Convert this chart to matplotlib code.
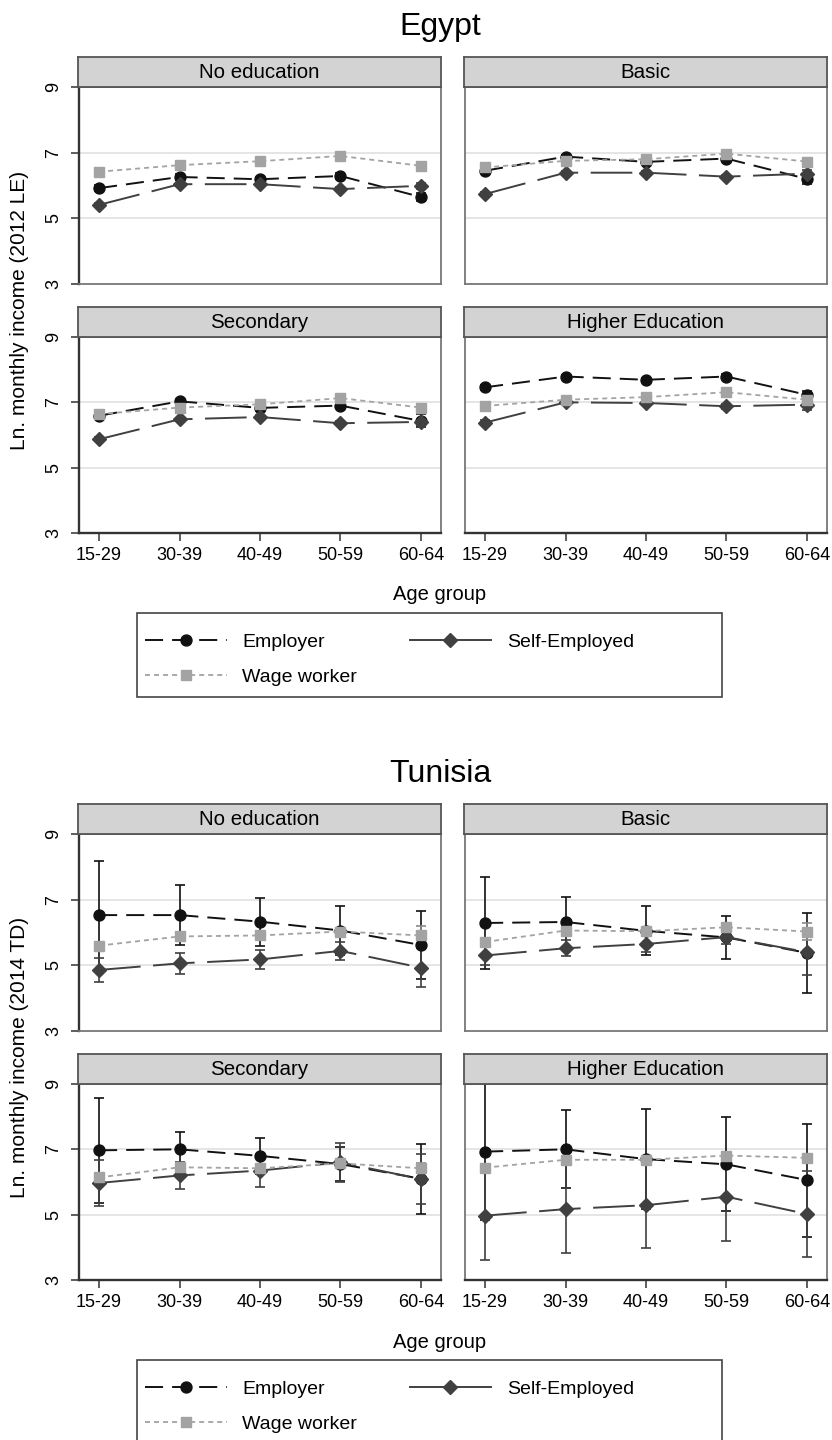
import matplotlib
matplotlib.use("Agg")
import matplotlib.pyplot as plt
from matplotlib.lines import Line2D
from matplotlib.patches import Rectangle

plt.rcParams['font.family'] = ['Liberation Sans', 'DejaVu Sans']
plt.rcParams['lines.scale_dashes'] = False

# ---------------- data ----------------
age_groups = ["15-29", "30-39", "40-49", "50-59", "60-64"]
education = ["No education", "Basic", "Secondary", "Higher Education"]
series_names = ["Employer", "Self-Employed", "Wage worker"]
y_ticks = [3, 5, 7, 9]
countries = ["Egypt", "Tunisia"]
y_labels = ["Ln. monthly income (2012 LE)", "Ln. monthly income (2014 TD)"]

# Egypt: one row per education level
egypt_employer = [[5.92, 6.26, 6.19, 6.29, 5.65],
                  [6.45, 6.88, 6.72, 6.82, 6.20],
                  [6.59, 7.03, 6.83, 6.90, 6.43],
                  [7.46, 7.79, 7.69, 7.79, 7.23]]
egypt_employer_ci = [[0.10, 0.08, 0.08, 0.08, 0.12],
                     [0.08, 0.06, 0.06, 0.07, 0.15],
                     [0.06, 0.06, 0.06, 0.06, 0.20],
                     [0.07, 0.06, 0.06, 0.07, 0.12]]
egypt_self = [[5.41, 6.04, 6.04, 5.89, 5.99],
              [5.74, 6.39, 6.39, 6.27, 6.36],
              [5.87, 6.48, 6.55, 6.36, 6.40],
              [6.38, 7.00, 6.98, 6.88, 6.93]]
egypt_self_ci = [[0.06, 0.05, 0.05, 0.06, 0.10],
                 [0.06, 0.05, 0.05, 0.06, 0.10],
                 [0.06, 0.05, 0.05, 0.06, 0.10],
                 [0.08, 0.06, 0.06, 0.07, 0.15]]
egypt_wage = [[6.42, 6.62, 6.74, 6.90, 6.60],
              [6.55, 6.75, 6.80, 6.97, 6.73],
              [6.64, 6.84, 6.94, 7.13, 6.84],
              [6.89, 7.08, 7.16, 7.31, 7.08]]
egypt_wage_ci = [[0.03, 0.03, 0.03, 0.03, 0.04],
                 [0.03, 0.03, 0.03, 0.03, 0.04],
                 [0.03, 0.03, 0.03, 0.03, 0.04],
                 [0.03, 0.03, 0.03, 0.03, 0.04]]

# Tunisia
tunisia_employer = [[6.53, 6.53, 6.33, 6.06, 5.62],
                    [6.29, 6.32, 6.05, 5.85, 5.38],
                    [6.97, 7.00, 6.80, 6.55, 6.10],
                    [6.93, 7.00, 6.70, 6.54, 6.06]]
tunisia_employer_ci = [[1.65, 0.92, 0.73, 0.74, 1.04],
                       [1.40, 0.77, 0.75, 0.65, 1.22],
                       [1.60, 0.54, 0.55, 0.53, 1.07],
                       [2.10, 1.19, 1.52, 1.44, 1.73]]
tunisia_self = [[4.86, 5.06, 5.18, 5.44, 4.93],
                [5.30, 5.52, 5.65, 5.86, 5.40],
                [5.97, 6.20, 6.35, 6.60, 6.09],
                [4.97, 5.17, 5.29, 5.55, 5.02]]
tunisia_self_ci = [[0.37, 0.33, 0.30, 0.28, 0.59],
                   [0.30, 0.25, 0.25, 0.20, 0.69],
                   [0.70, 0.41, 0.50, 0.60, 0.76],
                   [1.37, 1.34, 1.31, 1.37, 1.31]]
tunisia_wage = [[5.60, 5.88, 5.91, 6.03, 5.91],
                [5.71, 6.06, 6.04, 6.16, 6.03],
                [6.14, 6.45, 6.42, 6.57, 6.42],
                [6.44, 6.68, 6.68, 6.81, 6.74]]
tunisia_wage_ci = [[0.12, 0.15, 0.15, 0.10, 0.30],
                   [0.10, 0.10, 0.10, 0.10, 0.25],
                   [0.10, 0.10, 0.10, 0.10, 0.15],
                   [0.10, 0.10, 0.10, 0.10, 0.10]]

country_data = [
    (egypt_employer, egypt_employer_ci, egypt_self, egypt_self_ci, egypt_wage, egypt_wage_ci),
    (tunisia_employer, tunisia_employer_ci, tunisia_self, tunisia_self_ci, tunisia_wage, tunisia_wage_ci),
]

# ---------------- styles ----------------
emp_style = dict(color='#111111', marker='o', ms=7.9, lw=1.4, dashes=(13, 6.5), zorder=4)
self_style = dict(color='#404040', marker='D', ms=6.8, lw=1.4, dashes=(30, 9), zorder=5)
wage_style = dict(color='#a3a3a3', marker='s', ms=7.9, lw=1.3, dashes=(3.6, 2.9), zorder=6)
err_colors = ['#111111', '#404040', '#8a8a8a']

W, H = 832, 1440
fig = plt.figure(figsize=(W / 100, H / 100), dpi=100)


def add_ax(x0, y0, x1, y1, **kw):
    return fig.add_axes([x0 / W, 1 - y1 / H, (x1 - x0) / W, (y1 - y0) / H], **kw)


cols = [(79, 441), (465, 827)]
rows = [(87, 284, 57), (337, 533, 307)]
x = list(range(1, len(age_groups) + 1))

for ci, country in enumerate(countries):
    off = 747 * ci
    emp, emp_ci, slf, slf_ci, wag, wag_ci = country_data[ci]
    fig.text(440 / W, 1 - (27 + off) / H, country, ha='center', va='center', fontsize=23)
    for k, edu in enumerate(education):
        r, c = divmod(k, 2)
        ytop, ybot, stop = rows[r]
        x0, x1 = cols[c]
        ax = add_ax(x0, ytop + off, x1, ybot + off)
        ax.set_xlim(0.75, 5.25)
        ax.set_ylim(3, 9)
        for g in y_ticks[1:-1]:
            ax.axhline(g, color='#dedede', lw=1.1, zorder=0)
        for yv, hw, col in zip((emp[k], slf[k], wag[k]), (emp_ci[k], slf_ci[k], wag_ci[k]), err_colors):
            ax.errorbar(x, yv, yerr=hw, fmt='none', ecolor=col, elinewidth=1.2,
                        capsize=3.8, capthick=1.2, zorder=3)
        ax.plot(x, emp[k], **emp_style)
        ax.plot(x, slf[k], **self_style)
        ax.plot(x, wag[k], **wage_style)
        for sp in ax.spines.values():
            sp.set_color('#777777')
            sp.set_linewidth(1.3)
        if c == 0:
            ax.spines['left'].set_color('#333333')
            ax.spines['left'].set_linewidth(1.7)
            ax.set_yticks(y_ticks)
            ax.set_yticklabels([str(t) for t in y_ticks], rotation=90, va='center', fontsize=13)
            ax.tick_params(axis='y', length=6, width=1.1, color='#333333', pad=6)
        else:
            ax.set_yticks([])
        if r == 1:
            ax.spines['bottom'].set_color('#333333')
            ax.spines['bottom'].set_linewidth(1.7)
            ax.set_xticks(x)
            ax.set_xticklabels(age_groups, fontsize=13)
            ax.tick_params(axis='x', length=6, width=1.1, color='#333333', pad=4)
        else:
            ax.set_xticks([])
        # strip
        sax = add_ax(x0 - 1, stop + off, x1, ytop + off - 0.5)
        sax.set_facecolor('#d3d3d3')
        sax.set_xticks([])
        sax.set_yticks([])
        for sp in sax.spines.values():
            sp.set_color('#555555')
            sp.set_linewidth(1.3)
        sax.text(0.5, 0.47, edu, ha='center', va='center', fontsize=14.8, transform=sax.transAxes)

    # axis titles
    fig.text(20 / W, 1 - (310 + off) / H, y_labels[ci], rotation=90, ha='center', va='center', fontsize=15)
    fig.text(440 / W, 1 - (595 + off) / H, "Age group", ha='center', va='center', fontsize=14.5)

    # legend frame and legend
    fig.patches.append(Rectangle((137 / W, 1 - (697 + off) / H), (722 - 137) / W, (697 - 613) / H,
                                 transform=fig.transFigure, facecolor='white', edgecolor='#444444',
                                 lw=1.2, zorder=1))
    handles = [
        Line2D([], [], color='#111111', marker='o', ms=7.9, lw=1.4, dashes=(13, 6.5)),
        Line2D([], [], color='#a3a3a3', marker='s', ms=7.9, lw=1.3, dashes=(3.6, 2.9)),
        Line2D([], [], color='#404040', marker='D', ms=6.8, lw=1.4),
    ]
    labels = [series_names[0], series_names[2], series_names[1]]
    fig.legend(handles, labels, loc='upper left', bbox_to_anchor=(145 / W, 1 - (633 + off) / H),
               ncol=2, frameon=False, fontsize=14, handlelength=4.2, handletextpad=0.8,
               columnspacing=2.7, labelspacing=0.9, borderpad=0, borderaxespad=0)

fig.savefig("out.png", dpi=100)
